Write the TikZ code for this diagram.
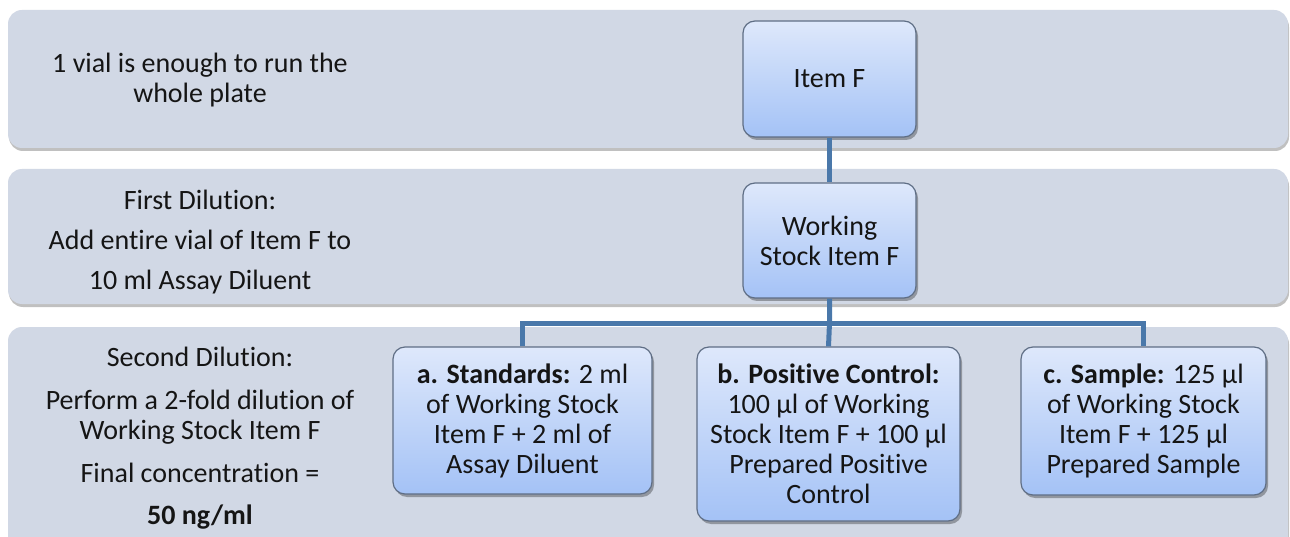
\documentclass[tikz,border=0pt]{standalone}
\usepackage{fontspec}
\setmainfont{Carlito}[Ligatures=NoCommon]
\usetikzlibrary{shadows}
\definecolor{bandfill}{HTML}{D1D8E5}
\definecolor{boxtop}{HTML}{DEE8FB}
\definecolor{boxbot}{HTML}{A4C2F6}
\definecolor{boxline}{HTML}{5F6E85}
\definecolor{connc}{HTML}{4A78AA}
\definecolor{txt}{HTML}{151515}
\begin{document}
\begin{tikzpicture}[x=1pt,y=-1pt,
  band/.style={fill=bandfill, rounded corners=14pt,
    drop shadow={shadow xshift=1pt,shadow yshift=-3pt,opacity=0.35,fill=black!70}},
  stepbox/.style={draw=boxline, line width=1.2pt, rounded corners=12pt,
    top color=boxtop, bottom color=boxbot, align=center, text=txt,
    font=\fontsize{28}{30}\selectfont, inner sep=0pt,
    drop shadow={shadow xshift=2pt,shadow yshift=-3pt,opacity=0.3,fill=black}},
  lbl/.style={align=center, text=txt, font=\fontsize{28}{30}\selectfont, inner sep=0pt},
  conn/.style={draw=connc, line width=5pt}]
\useasboundingbox (0,0) rectangle (1290,537);
\fill[white] (0,0) rectangle (1290,537);
% bands
\path[band] (8,10) rectangle (1288,148);
\path[band] (8,169) rectangle (1288,304);
\path[band] (8,327) rectangle (1288,580);
% band labels
\node[lbl] (t1) at (200,80) {1 vial is enough to run the\\whole plate};
\node[lbl] (t2) at (200,242) {First Dilution:\\[10pt]Add entire vial of Item F to\\[10pt]10 ml Assay Diluent};
\node[lbl] (t3) at (200,438) {Second Dilution:\\[13pt]Perform a 2-fold dilution of\\Working Stock Item F\\[13pt]Final concentration =\\[12pt]\textbf{50 ng/ml}};
% boxes
\node[stepbox, minimum width=173pt, minimum height=116pt] (f) at (829.5,79) {Item F};
\node[stepbox, minimum width=173pt, minimum height=115pt] (ws) at (829.5,240.5) {Working\\Stock Item F};
\node[stepbox, minimum width=259pt, minimum height=147pt] (a) at (522.5,420.5)
  {\textbf{a. Standards:} 2 ml\\of Working Stock\\Item F + 2 ml of\\Assay Diluent};
\node[stepbox, minimum width=263pt, minimum height=174pt] (b) at (828.5,434)
  {\textbf{b. Positive Control:}\\100 µl of Working\\Stock Item F + 100 µl\\Prepared Positive\\Control};
\node[stepbox, minimum width=245pt, minimum height=148pt] (c) at (1143.5,421)
  {\textbf{c. Sample:} 125 µl\\of Working Stock\\Item F + 125 µl\\Prepared Sample};
% connectors
\coordinate (j) at (829.5,323);
\draw[conn] (f.south) -- (ws.north);
\draw[conn] (ws.south) -- (j) -- (b.north);
\draw[conn] (a.north) |- (j) -| (c.north);
\end{tikzpicture}
\end{document}
